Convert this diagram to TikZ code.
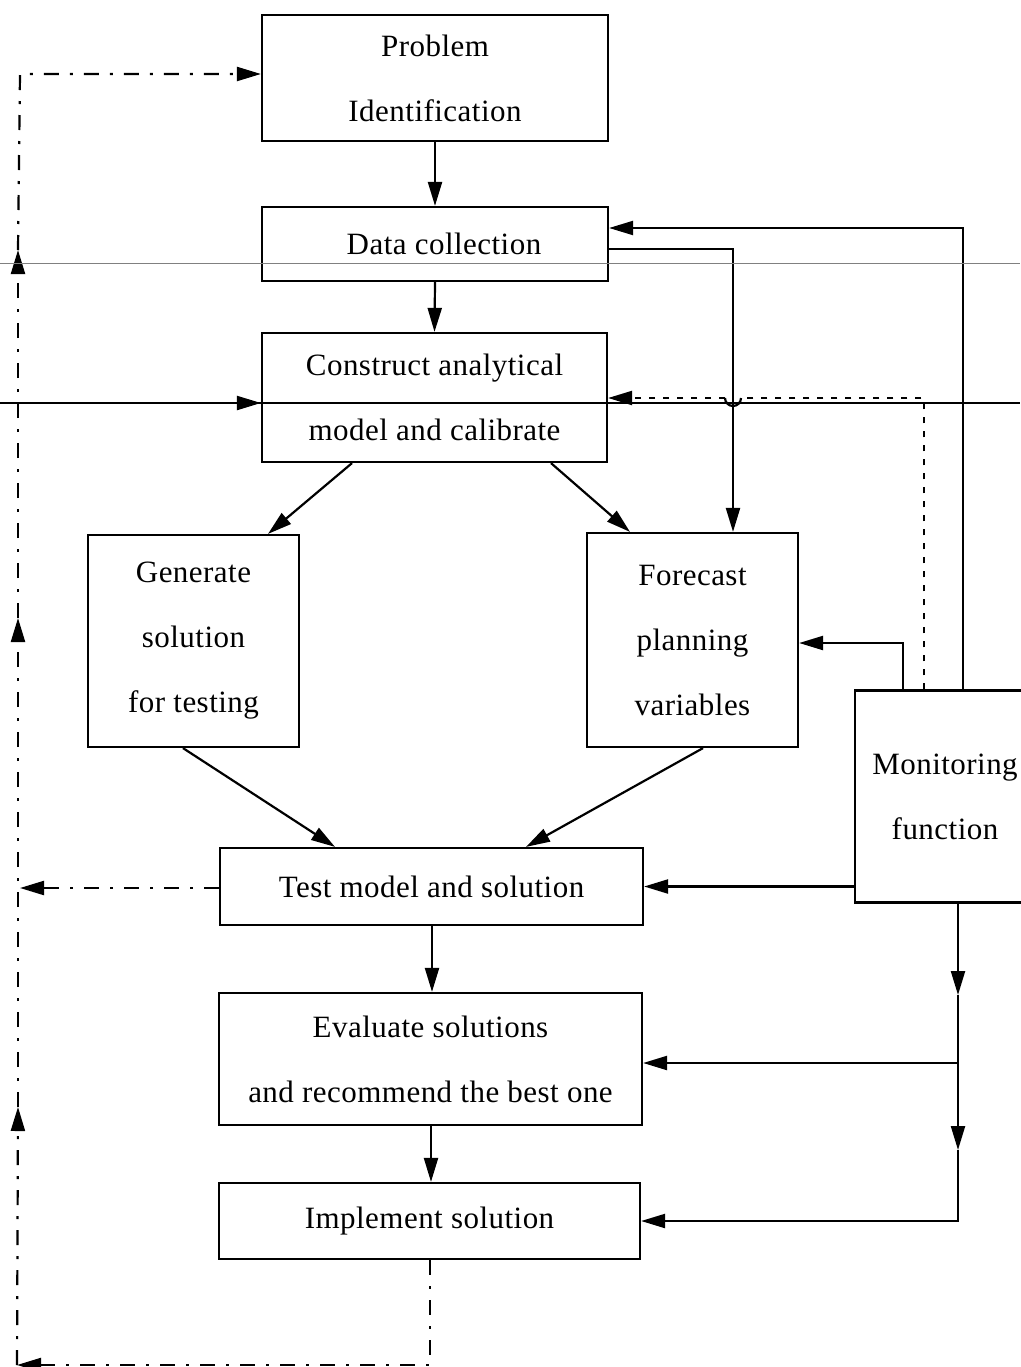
\documentclass[tikz,border=0pt]{standalone}
\usepackage{fontspec}
\setmainfont{Liberation Serif}[LetterSpace=1.5]
\usetikzlibrary{arrows.meta}

\begin{document}
\begin{tikzpicture}[x=1pt, y=-1pt,
  box/.style={draw, line width=2.2pt, rectangle, inner sep=0pt, align=center,
              font=\fontsize{31}{65}\selectfont},
  tip/.style={-{Triangle[length=24pt,width=14pt]}},
  arr/.style={line width=2.2pt, tip},
  plain/.style={line width=2.2pt},
  dd/.style={line width=2.2pt, dash pattern=on 15pt off 11pt on 3pt off 11pt},
  dots/.style={line width=2.2pt, dash pattern=on 6pt off 8pt}
]
\useasboundingbox (0,0) rectangle (1020,1367);

% process boxes
\node[box, minimum width=346pt, minimum height=126pt] (prob) at (435,78)    {Problem\\Identification};
\node[box, minimum width=346pt, minimum height=74pt]  (data) at (435,244)   {\hspace*{18pt}Data collection};
\node[box, minimum width=345pt, minimum height=129pt] (cons) at (434.5,397.5) {Construct analytical\\model and calibrate};
\node[box, minimum width=211pt, minimum height=212pt] (gen)  at (193.5,641) {Generate\\solution\\for testing};
\node[box, minimum width=211pt, minimum height=214pt] (fore) at (692.5,640) {Forecast\\planning\\variables};
\node[box, minimum width=180pt, minimum height=212pt] (mon)  at (945,796.5) {Monitoring\\function};
\node[box, minimum width=423pt, minimum height=77pt]  (test) at (431.5,886.5) {Test model and solution};
\node[box, minimum width=423pt, minimum height=132pt] (eval) at (430.5,1059) {Evaluate solutions\\and recommend the best one};
\node[box, minimum width=421pt, minimum height=76pt]  (impl) at (429.5,1221) {Implement solution};

% main flow
\draw[arr] (prob.south) -- (data.north);
\draw[arr] (data.south) -- (cons.north);
\draw[arr] (352,0 |- cons.south) -- (268,0 |- gen.north);
\draw[arr] (551,0 |- cons.south) -- (630,0 |- fore.north);
\draw[arr] (0,249 -| data.east) -| (733,0 |- fore.north);
\draw[arr] (183,0 |- gen.south) -- (335,0 |- test.north);
\draw[arr] (703,0 |- fore.south) -- (526,0 |- test.north);
\draw[arr] (432,0 |- test.south) -- (432,0 |- eval.north);
\draw[arr] (431,0 |- eval.south) -- (431,0 |- impl.north);

% monitoring links
\draw[arr] (963,0 |- mon.north) |- (0,228 -| data.east);
\draw[arr] (903,0 |- mon.north) |- (0,643 -| fore.east);
\draw[arr] (mon.west |- test.east) -- (test.east);
\coordinate (hopR) at (741,398);
\coordinate (hopL) at (725,398);
\draw[dots] (924,0 |- mon.north) |- (hopR);
\draw[plain] (hopR) arc[start angle=0, end angle=180, radius=8];
\draw[dots, tip] (hopL) -- (0,398 -| cons.east);

\coordinate (m1) at (958,995);
\coordinate (m2) at (958,1063);
\coordinate (m3) at (958,1150);
\draw[arr] (958,0 |- mon.south) -- (m1);
\draw[plain] (m1) -- (m2);
\draw[arr] (m2) -- (eval.east |- m2);
\draw[arr] (m2) -- (m3);
\draw[arr] (m3) |- (impl.east);

% feedback loop
\coordinate (ib) at (430,1365);
\coordinate (lb) at (17,1365);
\coordinate (l1) at (18,1107);
\coordinate (l2) at (18,618);
\coordinate (l3) at (18,250);
\coordinate (lt) at (20,74);
\coordinate (lc) at (18,403);
\coordinate (tl) at (20,888);
\draw[dd, arr] (430,0 |- impl.south) -- (ib) -- (lb);
\draw[dd, arr] (lb) -- (l1);
\draw[dd, arr] (l1) -- (l2);
\draw[dd, arr] (l2) -- (l3);
\draw[dd, arr] (l3) -- (lt) -- (lt -| prob.west);
\draw[dd, arr] (lc) -- (lc -| cons.west);
\draw[dd, arr] (test.west |- tl) -- (tl);

% ruled lines across the sheet
\draw[gray, line width=1pt] (0,263) -- (1020,263);
\draw[line width=2.4pt] (0,403) -- (1020,403);
\end{tikzpicture}
\end{document}
